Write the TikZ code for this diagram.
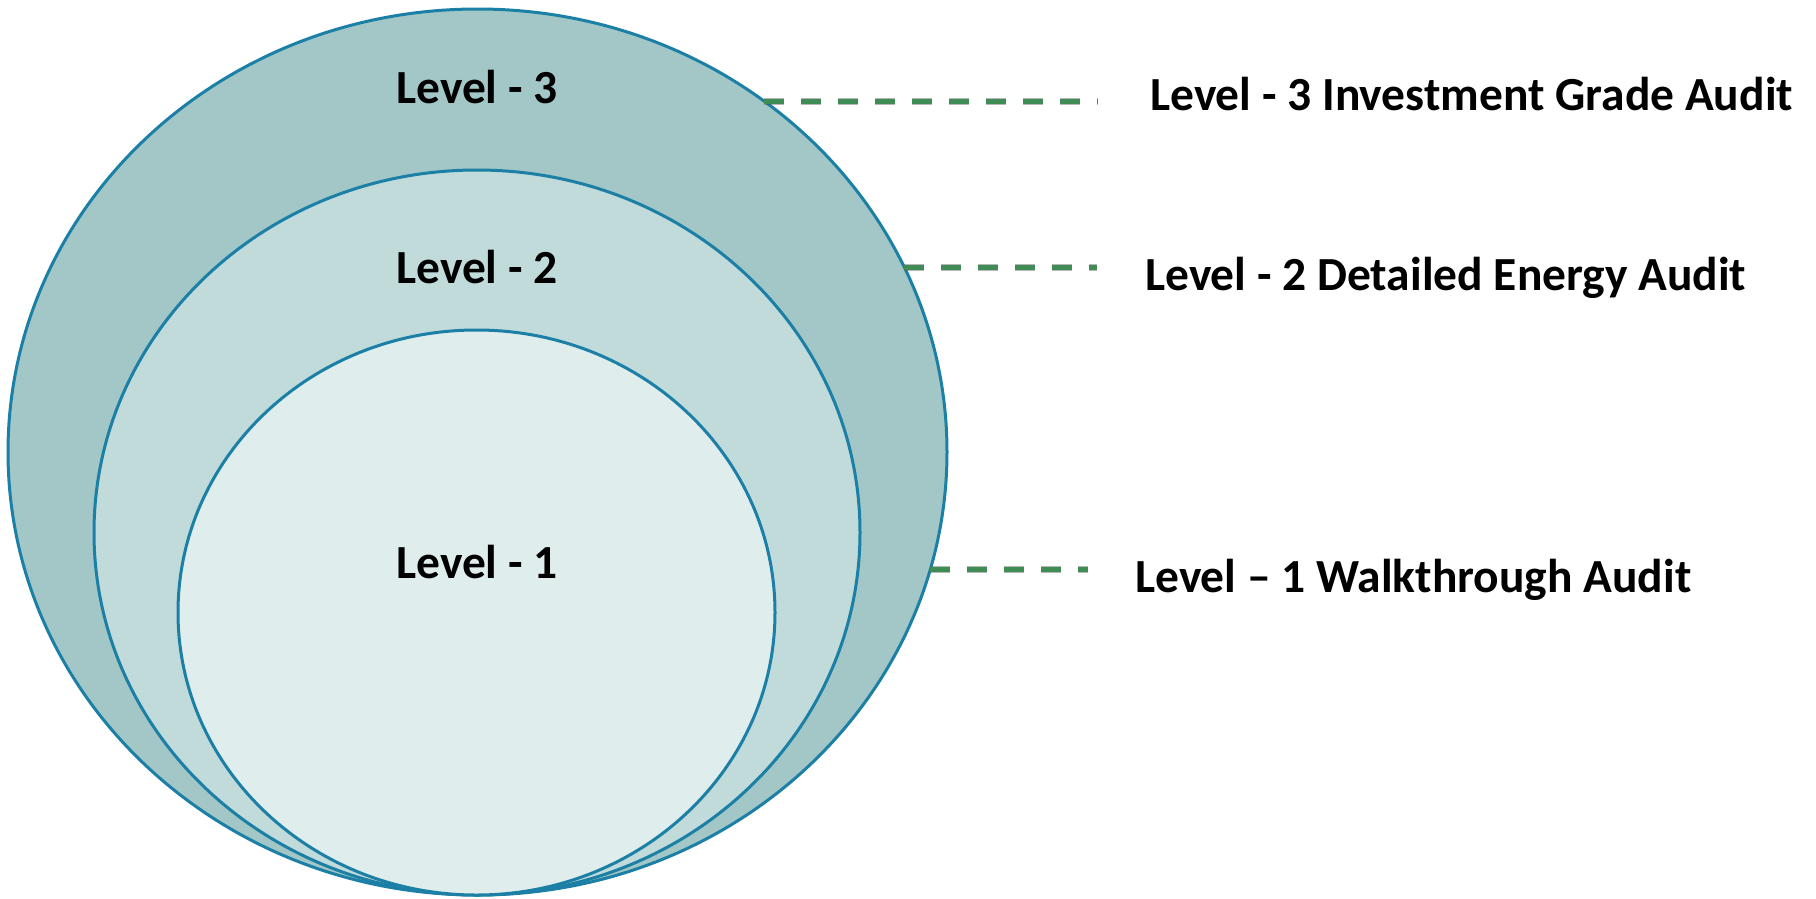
\documentclass[tikz,border=0pt]{standalone}
\usepackage{fontspec}
\setmainfont{Carlito}
\usetikzlibrary{shapes.geometric}
\definecolor{ringline}{HTML}{1B7FA6}
\definecolor{fillthree}{HTML}{A2C7C6}
\definecolor{filltwo}{HTML}{C1DBDB}
\definecolor{fillone}{HTML}{E0EDED}
\definecolor{dashgreen}{HTML}{3F8C55}
\tikzset{
  ring/.style={ellipse, draw=ringline, line width=3pt, inner sep=0pt, outer sep=0pt},
  lvl/.style={font=\fontsize{47.5}{57}\selectfont\bfseries, text=black, inner sep=0pt},
  leader/.style={draw=dashgreen, line width=5pt, dash pattern=on 20pt off 17pt},
  leadershadow/.style={draw=black!70, draw opacity=0.4, line width=7pt, dash pattern=on 20pt off 17pt, xshift=2pt, yshift=-4pt}
}
\begin{document}
\begin{tikzpicture}[x=1pt,y=-1pt]
\useasboundingbox (0,0) rectangle (1816,898);
\node[ring, fill=fillthree, minimum width=939pt, minimum height=886pt] (outer) at (477.5,452) {};
\node[ring, fill=filltwo, minimum width=766pt, minimum height=725pt] (middle) at (477,532.5) {};
\node[ring, fill=fillone, minimum width=597pt, minimum height=565pt] (inner) at (476.5,612.5) {};

\node[lvl, anchor=base] (in3) at (477,103) {Level - 3};
\node[lvl, anchor=base] (in2) at (477,283) {Level - 2};
\node[lvl, anchor=base] (in1) at (477,578) {Level - 1};

\node[lvl, anchor=base west] (lab3) at (1150,110) {Level - 3 Investment Grade Audit};
\node[lvl, anchor=base west] (lab2) at (1145,290) {Level - 2 Detailed Energy Audit};
\node[lvl, anchor=base west] (lab1) at (1135,592) {Level – 1 Walkthrough Audit};

\coordinate (s3) at (764,101);
\coordinate (e3) at (1098,101);
\coordinate (s2) at (904,267);
\coordinate (e2) at (1097,267);
\coordinate (s1) at (930,569);
\coordinate (e1) at (1088,569);

\foreach \a/\b in {s3/e3, s2/e2, s1/e1}{
  \path[leadershadow] (\a) -- (\b);
  \path[leader] (\a) -- (\b);
}
\end{tikzpicture}
\end{document}
